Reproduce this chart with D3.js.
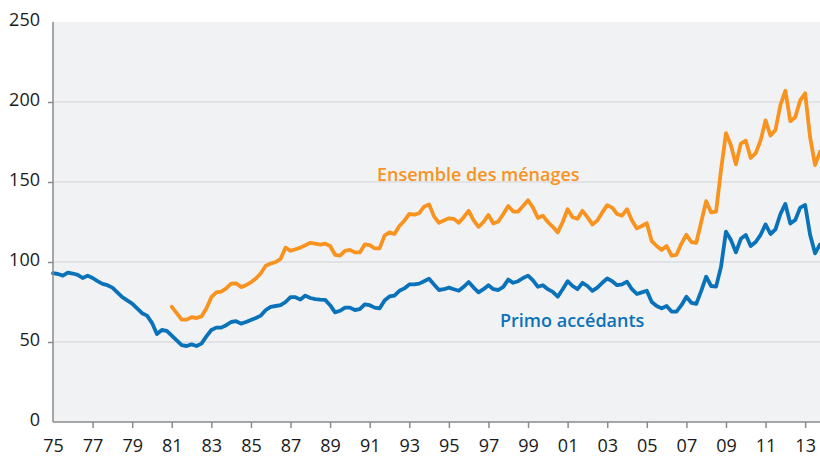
<!DOCTYPE html>
<html>
<head>
<meta charset="utf-8">
<style>
  body { margin: 0; background: #fff; }
  svg { font-family: "Open Sans", sans-serif; }
  .axis path, .axis line { stroke: #8a8a8a; stroke-width: 1.5; }
  .axis text { font-family: "Open Sans", sans-serif; font-size: 18px; fill: #1a1a1a; }
  .grid line { stroke: #dcdde1; stroke-width: 1.5; }
  .serie { fill: none; stroke-width: 3.8; stroke-linejoin: round; stroke-linecap: round; }
</style>
<script src="https://d3js.org/d3.v7.min.js"></script>
</head>
<body>
<svg width="820" height="456"></svg>
<script>
// trimestriel, de 1975T1 à 2013T4
var firstYear = 1975, lastYear = 2013;

var primo = [
  93, 92.5, 91.5, 93.3,   92.8, 92, 90, 91.5,   90, 88, 86.3, 85.5,   84, 81, 78, 76,
  74, 71, 68, 66.5,       62, 55, 57.5, 57,     54, 51, 48, 47.5,     48.5, 47.5, 49, 53.5,
  57.5, 59, 59, 60.5,     62.5, 63, 61.5, 62.5, 63.8, 65, 66.5, 70,   72, 72.5, 73, 75,
  78, 78, 76.5, 79,       77.5, 76.8, 76.5, 76.3, 73, 68.5, 69.5, 71.5, 71.5, 70, 70.5, 73.5,
  73, 71.5, 71, 76,       78.5, 79, 82, 83.5,   86, 86, 86.5, 88,     89.5, 86, 82.5, 83,
  84, 83, 82, 84.5,       87.5, 84, 81, 83,     85.5, 83, 82.5, 84.5, 89, 87, 88, 90,
  91.5, 88.5, 84.5, 85.5, 83, 81.3, 78.3, 83,   88, 85, 83, 87,       85, 82, 84, 87,
  89.7, 88, 85.5, 86,     87.7, 83, 80, 81,     82, 75, 72.5, 71,     72.5, 69, 69, 73,
  78.3, 74.5, 73.8, 82,   90.8, 85, 84.6, 97,   119, 113.8, 106, 114.5, 116.9, 110, 112.5, 117,
  123.5, 117.5, 120.4, 130, 136.3, 124, 126.3, 134, 135.6, 117, 105.4, 111
];

// pas de donnée avant 1981
var ensemble = [
  null, null, null, null, null, null, null, null, null, null, null, null,
  null, null, null, null, null, null, null, null, null, null, null, null,
  72, 68, 64, 64,         65.5, 65, 66, 71,     78, 81, 81.5, 83.5,   86.5, 86.7, 84.3, 85.5,
  87.3, 89.7, 93, 97.7,   99, 100, 102, 109,    107, 108, 109, 110.5, 112, 111.5, 110.8, 111.5,
  110, 104.5, 104, 107,   107.6, 106, 106, 111, 110.5, 108.5, 108.5, 116.5, 118.5, 117.5, 122.5, 125.8,
  130, 129.6, 130.5, 134.6, 136, 128.5, 124.5, 126, 127.3, 127, 124.5, 128, 132, 126, 122, 125,
  129.4, 124, 125.3, 130, 135, 131.5, 131.5, 135, 138.6, 134, 127.5, 129, 125, 122, 118.5, 125,
  133, 128, 127, 132,     128, 123.5, 126, 131, 135.5, 134, 130, 129, 133, 126, 121, 122.5,
  124.2, 113, 110, 107.5, 110, 104, 104.5, 111.5, 117, 112.5, 112, 125, 138, 131, 131.5, 157.5,
  180.5, 173, 161, 174,   175.8, 165, 168, 176, 188.5, 179, 182.5, 198, 207, 188, 190.5, 201,
  205.4, 178, 160.6, 169
];

var yTicks = [0, 50, 100, 150, 200, 250];
var xTickYears = d3.range(1975, 2014, 2);
var xTickLabels = ["75", "77", "79", "81", "83", "85", "87", "89", "91", "93",
                   "95", "97", "99", "01", "03", "05", "07", "09", "11", "13"];

var labels = [
  {text: "Ensemble des ménages", color: "#f7931e", x: 377, y: 181},
  {text: "Primo accédants", color: "#0a72b9", x: 500, y: 327}
];

var svg = d3.select("svg"),
    margin = {top: 22, right: 0, bottom: 34, left: 53},
    width = +svg.attr("width") - margin.left - margin.right,
    height = +svg.attr("height") - margin.top - margin.bottom;

var t = primo.map(function(d, i) { return firstYear + i / 4; });

var x = d3.scaleLinear().domain([firstYear, lastYear + 0.75]).range([0, width]),
    y = d3.scaleLinear().domain([0, 250]).range([height, 0]);

var g = svg.append("g")
    .attr("transform", "translate(" + margin.left + "," + margin.top + ")");

g.append("rect")
    .attr("width", width)
    .attr("height", height)
    .attr("fill", "#f1f2f4");

g.append("g")
    .attr("class", "grid")
  .selectAll("line")
  .data(yTicks.filter(function(d) { return d > 0 && d < 250; }))
  .enter().append("line")
    .attr("x1", 0)
    .attr("x2", width)
    .attr("y1", function(d) { return y(d); })
    .attr("y2", function(d) { return y(d); });

var line = d3.line()
    .defined(function(d) { return d != null; })
    .x(function(d, i) { return x(t[i]); })
    .y(function(d) { return y(d); });

g.append("path")
    .datum(ensemble)
    .attr("class", "serie")
    .attr("stroke", "#f7931e")
    .attr("d", line);

g.append("path")
    .datum(primo)
    .attr("class", "serie")
    .attr("stroke", "#0a72b9")
    .attr("d", line);

var yAxis = g.append("g")
    .attr("class", "axis")
    .call(d3.axisLeft(y).tickValues(yTicks).tickSize(5).tickPadding(8));
yAxis.attr("font-family", null).attr("font-size", null);
yAxis.select(".domain").attr("d", "M0," + height + "V0");
yAxis.selectAll("text").attr("dy", "0.2em");
yAxis.selectAll(".tick").filter(function(d) { return d === 0 || d === 250; }).select("line").remove();

var xAxis = g.append("g")
    .attr("class", "axis")
    .attr("transform", "translate(0," + height + ")")
    .call(d3.axisBottom(x)
        .tickValues(xTickYears)
        .tickFormat(function(d, i) { return xTickLabels[i]; })
        .tickSize(6)
        .tickPadding(11));
xAxis.attr("font-family", null).attr("font-size", null);
xAxis.select(".domain").attr("d", "M0,0H" + width);
xAxis.selectAll(".tick").filter(function(d) { return d === firstYear; }).select("line").remove();

svg.selectAll(".lbl")
  .data(labels)
  .enter().append("text")
    .attr("class", "lbl")
    .attr("x", function(d) { return d.x; })
    .attr("y", function(d) { return d.y; })
    .attr("fill", function(d) { return d.color; })
    .style("font-size", "18px")
    .style("font-weight", 600)
    .text(function(d) { return d.text; });
</script>
</body>
</html>
